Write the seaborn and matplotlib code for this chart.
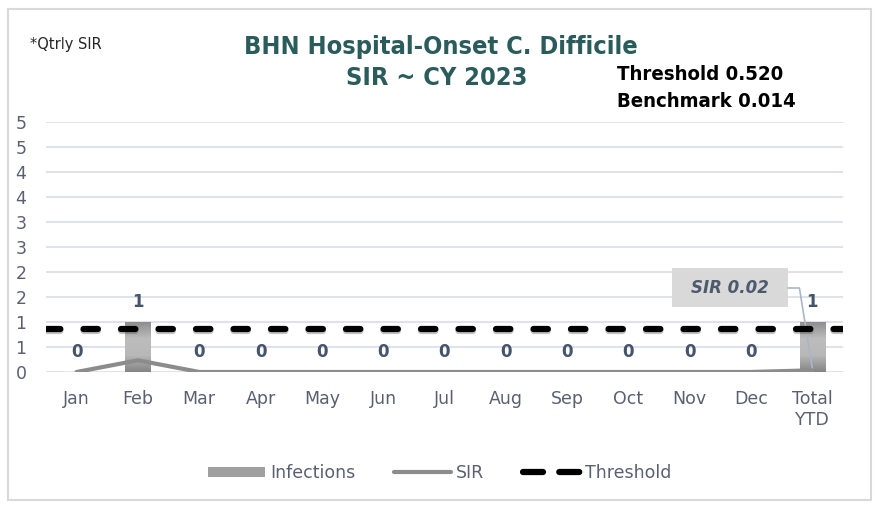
import numpy as np
import pandas as pd
import seaborn as sns
import matplotlib.pyplot as plt
import matplotlib.patheffects as pe
from matplotlib.patches import Rectangle, Patch
from matplotlib.lines import Line2D
from matplotlib.colors import LinearSegmentedColormap

# === data
months = ['Jan', 'Feb', 'Mar', 'Apr', 'May', 'Jun', 'Jul', 'Aug', 'Sep', 'Oct', 'Nov', 'Dec', 'Total\nYTD']
infections = [0, 1, 0, 0, 0, 0, 0, 0, 0, 0, 0, 0, 1]
sir = [0, 0.14, 0, 0, 0, 0, 0, 0, 0, 0, 0, 0, 0.02]
threshold = 0.52
benchmark = 0.014
ytd_sir_label = 'SIR 0.02'

df = pd.DataFrame({'Month': months, 'Infections': infections, 'SIR': sir, 'pos': np.arange(len(months))})

sns.set_style('white')
plt.rcParams['font.family'] = ['DejaVu Sans']

txt_col = '#5a6070'
lab_col = '#44546a'

fig = plt.figure(figsize=(8.79, 5.09), dpi=100)
ax = fig.add_axes([0.0523, 0.2692, 0.9067, 0.4911])

# === bars (Infections)
sns.barplot(data=df, x='Month', y='Infections', color='#a6a6a6', width=0.41, ax=ax, zorder=2)
# gradient, bottom -> top
grad = LinearSegmentedColormap.from_list('g', ['#858585', '#b8b8b8', '#bdbdbd', '#8e8e8e'])
for p in ax.patches:
    if p.get_height() <= 0:
        continue
    x0, y0, w, h = p.get_x(), p.get_y(), p.get_width(), p.get_height()
    im = ax.imshow(np.linspace(0, 1, 100).reshape(-1, 1), cmap=grad, aspect='auto',
                   extent=[x0, x0 + w, y0, y0 + h], origin='lower', zorder=2.1)
    im.set_clip_path(p)
    p.set_edgecolor('none')

ax.set_xlim(-0.5, len(months) - 0.5)
ax.set_ylim(0, 5)
ticks = np.arange(0, 5.01, 0.5)
ax.set_yticks(ticks)
ax.set_yticklabels([str(int(np.floor(t + 0.5))) for t in ticks])
ax.grid(axis='y', color='#d9dde6', lw=1.2, zorder=0)
ax.set_axisbelow(True)
for s in ax.spines.values():
    s.set_visible(False)
ax.tick_params(axis='both', length=0, labelsize=12.5, labelcolor=txt_col)
ax.tick_params(axis='y', pad=14)
ax.tick_params(axis='x', pad=13)
ax.set_xlabel('')
ax.set_ylabel('')

for i, v in enumerate(infections):
    ax.annotate(str(v), (i, v), xytext=(0, 14.5), textcoords='offset points',
                ha='center', va='center', fontsize=12, fontweight='bold', color=lab_col)

# === SIR + threshold on secondary axis
ax2 = ax.twinx()
ax2.set_ylim(0, 3)
ax2.set_yticks([])
for s in ax2.spines.values():
    s.set_visible(False)
sns.lineplot(data=df, x='pos', y='SIR', color='#8c8c8c', lw=3, ax=ax2, zorder=3)
ax2.axhline(threshold, color='black', lw=4.5, ls=(0, (2.3, 3.7)), dash_capstyle='round', zorder=4,
            path_effects=[pe.SimpleLineShadow(offset=(0, -2), shadow_color='#555555', alpha=0.35),
                          pe.Normal()])
ax2.set_xlim(-0.5, len(months) - 0.5)
ax2.set_xlabel('')
ax2.set_ylabel('')

# SIR callout on YTD point
cx, cy = 10.66, 1.68
ax.add_patch(Rectangle((cx - 0.947, 1.30), 1.894, 0.78, fc='#d9d9d9', ec='none', zorder=5))
ax.text(cx, cy, ytd_sir_label, ha='center', va='center', fontsize=12, fontweight='bold',
        style='italic', color='#4d5a6e', zorder=6)
ax.plot([cx + 0.947, 11.79, 12.01], [cy, cy, 0], color='#a9b6c9', lw=1.2, zorder=5)

# === legend
handles = [Patch(facecolor='#a0a0a0', edgecolor='none'),
           Line2D([], [], color='#8c8c8c', lw=3),
           Line2D([], [], color='black', lw=4.5, ls=(0, (3.2, 2.6)), dash_capstyle='round')]
fig.legend(handles, ['Infections', 'SIR', 'Threshold'], loc='center', bbox_to_anchor=(0.5, 0.071),
           ncol=3, frameon=False, fontsize=12.5, labelcolor=txt_col, handlelength=3.3,
           handleheight=0.5, handletextpad=0.3, columnspacing=2.2)

# === titles / notes
fig.text(0.5017, 0.9077, 'BHN Hospital-Onset C. Difficile', ha='center', va='center',
         fontsize=18.2, fontweight='bold', color='#2b5c5c', fontstretch='condensed')
fig.text(0.4972, 0.8468, 'SIR ~ CY 2023', ha='center', va='center',
         fontsize=18.2, fontweight='bold', color='#2b5c5c', fontstretch='condensed')
fig.text(0.034, 0.9116, '*Qtrly SIR', ha='left', va='center', fontsize=11.7, color='#262626',
         fontstretch='condensed')
fig.text(0.702, 0.853, f'Threshold {threshold:.3f}', ha='left', va='center', fontsize=14.6,
         fontweight='bold', color='black', fontstretch='condensed')
fig.text(0.702, 0.801, f'Benchmark {benchmark:.3f}', ha='left', va='center', fontsize=14.6,
         fontweight='bold', color='black', fontstretch='condensed')

# outer frame
fig.patches.append(Rectangle((8 / 879, 9 / 509), 863 / 879, 491 / 509, transform=fig.transFigure,
                             fill=False, ec='#d9d9d9', lw=1.5))

fig.savefig('out.png', dpi=100)
